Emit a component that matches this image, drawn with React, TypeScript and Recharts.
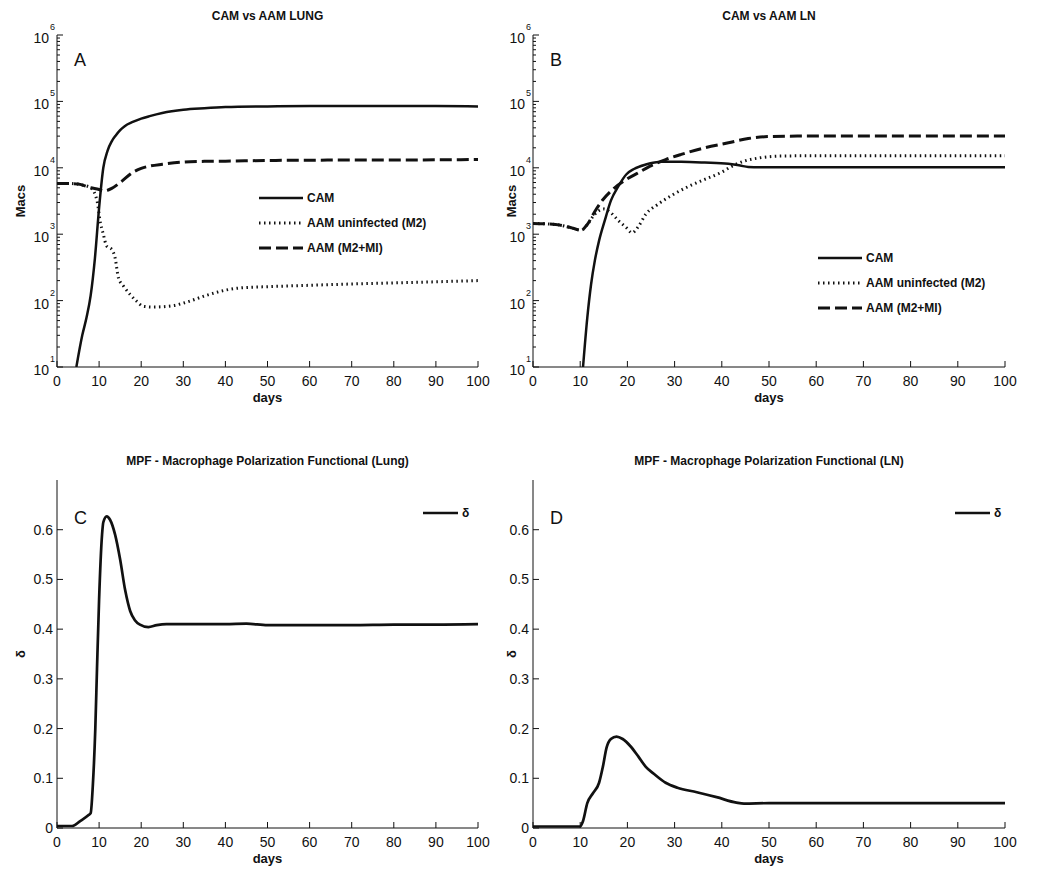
import React from 'react';
import { LineChart, Line, XAxis, YAxis, Legend } from 'recharts';

const TICK_FONT = "'Liberation Sans Narrow', 'Liberation Sans', Arial, sans-serif";
const LABEL_FONT = "'Liberation Sans', Arial, sans-serif";
const INK = '#111';

const DAY_TICKS = [0, 10, 20, 30, 40, 50, 60, 70, 80, 90, 100];
const DELTA_TICKS = [0, 0.1, 0.2, 0.3, 0.4, 0.5, 0.6];
const DECADES = [10, 100, 1000, 10000, 100000, 1000000];
const MINOR_STEPS = [2, 3, 4, 5, 6, 7, 8, 9];
const LOG_TICKS = [...DECADES, ...DECADES.slice(0, -1).flatMap((d) => MINOR_STEPS.map((k) => d * k))];

// A - lung
const LUNG_CAM_DAYS = [4.6, 6, 7, 8, 9, 10, 11, 12, 13, 14, 15, 16, 18, 20, 22, 25, 30, 35, 40, 50, 60, 70, 80, 90, 100];
const LUNG_CAM = [10, 30, 55, 120, 430, 2500, 10000, 18000, 25000, 31000, 37000, 42000, 49000, 55000, 60000, 67000, 75000, 79000, 82000, 84000, 85000, 85000, 85000, 85000, 84000];
const LUNG_M2_DAYS = [0, 3, 6, 8, 9.5, 10.3, 11, 11.8, 13, 13.8, 14.6, 15.8, 17.4, 18.9, 20.5, 23, 27.6, 30.8, 35.5, 40.3, 43.4, 50, 60, 70, 80, 90, 100];
const LUNG_M2 = [5800, 5800, 5500, 5000, 3200, 1500, 1000, 660, 590, 440, 220, 165, 123, 98, 82, 80, 84, 95, 120, 145, 155, 162, 170, 178, 185, 192, 200];
const LUNG_AAM_DAYS = [0, 2, 5, 8, 10, 11, 12, 13, 15, 18, 20, 22, 25, 30, 35, 40, 50, 60, 70, 80, 90, 100];
const LUNG_AAM = [5800, 5800, 5700, 5000, 4700, 4500, 4600, 4900, 6000, 8500, 9800, 10600, 11300, 12200, 12500, 12600, 12900, 13000, 13100, 13100, 13200, 13300];

// B - lymph node
const LN_CAM_DAYS = [10.6, 11.5, 12.3, 13.1, 14, 15.2, 16.5, 18.1, 19.8, 21.4, 23.9, 27.3, 31.4, 36.4, 41.4, 43.9, 45.6, 48, 60, 80, 100];
const LN_CAM = [10, 55, 175, 400, 800, 1600, 3200, 5300, 8000, 9600, 11200, 12300, 12300, 12000, 11500, 10800, 10300, 10200, 10200, 10200, 10200];
const LN_M2_DAYS = [0, 4.8, 8.1, 10.2, 11.5, 13.1, 15, 16.5, 18.1, 19.8, 21, 22.3, 23.9, 26.4, 29.8, 33.1, 36.4, 39.7, 42.2, 44.7, 48, 52.2, 60, 80, 100];
const LN_M2 = [1450, 1400, 1250, 1150, 1400, 2000, 2400, 2100, 1600, 1250, 1050, 1300, 2000, 2800, 4000, 5300, 6700, 8400, 10600, 12600, 14100, 15000, 15200, 15200, 15200];
const LN_AAM_DAYS = [0, 4.8, 8.1, 10.2, 11.5, 13.1, 14.8, 17.3, 19.8, 22.3, 24.8, 28.1, 31.4, 36.4, 41.4, 45.6, 49.7, 56, 65, 80, 100];
const LN_AAM = [1450, 1400, 1250, 1150, 1400, 2200, 3300, 5000, 6700, 8400, 10600, 13300, 15900, 20000, 23800, 27600, 29500, 30000, 30000, 30000, 30000];

// C - MPF lung
const MPF_LUNG_DAYS = [0, 3.6, 5.5, 7.5, 8, 8.5, 9.1, 9.5, 10, 10.7, 11, 11.8, 12.6, 13.8, 15, 16.2, 17.4, 18.5, 19.7, 21.7, 23.7, 26, 30, 40, 45, 50, 60, 70, 80, 90, 100];
const MPF_LUNG = [0.004, 0.004, 0.014, 0.026, 0.03, 0.084, 0.2, 0.32, 0.46, 0.59, 0.615, 0.627, 0.62, 0.59, 0.54, 0.478, 0.436, 0.418, 0.409, 0.404, 0.408, 0.41, 0.41, 0.41, 0.411, 0.408, 0.408, 0.408, 0.409, 0.409, 0.41];

// D - MPF LN
const MPF_LN_DAYS = [0, 5, 10, 10.6, 11.5, 12.7, 14, 14.8, 15.6, 16.5, 17.7, 19, 20.6, 22.3, 23.9, 25.6, 28.1, 30.6, 34.7, 38.9, 43.1, 44.7, 50, 60, 80, 100];
const MPF_LN = [0.003, 0.003, 0.003, 0.014, 0.05, 0.07, 0.091, 0.123, 0.162, 0.179, 0.184, 0.179, 0.165, 0.144, 0.123, 0.109, 0.091, 0.081, 0.072, 0.062, 0.051, 0.049, 0.05, 0.05, 0.05, 0.05];

const zip = (xs: number[], ys: number[]) => xs.map((x, i) => ({ x, y: ys[i] }));

const LINE_STYLE: Record<string, { width: number; dash?: string }> = {
  CAM: { width: 2.5 },
  'AAM uninfected (M2)': { width: 3, dash: '1.5 3.5' },
  'AAM (M2+MI)': { width: 3, dash: '12 5' },
  'δ': { width: 2.7 },
};

const isDecade = (v: number) => Math.abs(Math.log10(v) - Math.round(Math.log10(v))) < 1e-9;

const BottomTick = ({ x, y, payload }: any) => (
  <g>
    <line x1={x} y1={y} x2={x} y2={y - 6} stroke={INK} />
    <text x={x} y={y + 19} textAnchor="middle" fontSize={14} fontFamily={TICK_FONT} fill={INK}>{payload.value}</text>
  </g>
);
const TopTick = ({ x, y }: any) => <line x1={x} y1={y} x2={x} y2={y + 6} stroke={INK} />;

const LeftLogTick = ({ x, y, payload }: any) => {
  const major = isDecade(payload.value);
  return (
    <g>
      <line x1={x} y1={y} x2={x + (major ? 6 : 3)} y2={y} stroke={INK} />
      {major && (
        <>
          <text x={x - 8} y={y + 8} textAnchor="end" fontSize={14} fontFamily={TICK_FONT} fill={INK}>10</text>
          <text x={x - 7} y={y - 5} fontSize={9} fontFamily={TICK_FONT} fill={INK}>{Math.round(Math.log10(payload.value))}</text>
        </>
      )}
    </g>
  );
};
const RightLogTick = ({ x, y, payload }: any) => (
  <line x1={x} y1={y} x2={x - (isDecade(payload.value) ? 6 : 3)} y2={y} stroke={INK} />
);
const LeftLinTick = ({ x, y, payload }: any) => (
  <g>
    <line x1={x} y1={y} x2={x + 6} y2={y} stroke={INK} />
    <text x={x - 4} y={y + 5} textAnchor="end" fontSize={14} fontFamily={TICK_FONT} fill={INK}>{payload.value}</text>
  </g>
);
const RightLinTick = ({ x, y }: any) => <line x1={x} y1={y} x2={x - 6} y2={y} stroke={INK} />;

const LegendBox = ({ payload, order, sample }: any) => {
  const items = [...(payload || [])].sort((a: any, b: any) => order.indexOf(a.value) - order.indexOf(b.value));
  return (
    <div>
      {items.map((entry: any) => {
        const st = LINE_STYLE[entry.value] || { width: 2.5 };
        return (
          <div key={entry.value} style={{ display: 'flex', alignItems: 'center', height: 25 }}>
            <svg width={sample} height={8}>
              <line x1={0} y1={4} x2={sample} y2={4} stroke={INK} strokeWidth={st.width} strokeDasharray={st.dash} />
            </svg>
            <span style={{ marginLeft: 4, fontFamily: LABEL_FONT, fontWeight: 'bold', fontSize: 12, color: INK }}>{entry.value}</span>
          </div>
        );
      })}
    </div>
  );
};

type Series = { name: string; points: { x: number; y: number }[] };

type PanelProps = {
  plotLeft: number;
  plotTop: number;
  plotW: number;
  plotH: number;
  log: boolean;
  series: Series[];
  title: string;
  letter: string;
  letterY: number;
  yLabel: string;
  yLabelX: number;
  legendPos: { left: number; top: number };
  sample: number;
};

const AXIS_W = 57;
const MARGIN_TOP = 35;

const Panel = ({ plotLeft, plotTop, plotW, plotH, log, series, title, letter, letterY, yLabel, yLabelX, legendPos, sample }: PanelProps) => {
  const left = plotLeft - AXIS_W;
  const top = plotTop - MARGIN_TOP;
  const width = AXIS_W + plotW + 15;
  const height = MARGIN_TOP + plotH + 50;
  const yDomain = log ? [10, 1000000] : [0, 0.7];
  const yTicks = log ? LOG_TICKS : DELTA_TICKS;
  return (
    <div style={{ position: 'absolute', left, top, width, height }}>
      <LineChart width={width} height={height} margin={{ top: MARGIN_TOP, right: 15, bottom: 10, left: 0 }}>
        <XAxis xAxisId="b" type="number" dataKey="x" domain={[0, 100]} ticks={DAY_TICKS} interval={0}
          allowDataOverflow tickSize={0} tickMargin={0} tickLine={false} height={40}
          axisLine={{ stroke: INK }} tick={<BottomTick />} />
        <XAxis xAxisId="t" orientation="top" type="number" dataKey="x" domain={[0, 100]} ticks={DAY_TICKS} interval={0}
          allowDataOverflow tickSize={0} tickMargin={0} tickLine={false} height={0}
          axisLine={{ stroke: INK }} tick={<TopTick />} />
        <YAxis yAxisId="l" type="number" scale={log ? 'log' : 'linear'} domain={yDomain} ticks={yTicks} interval={0}
          allowDataOverflow tickSize={0} tickMargin={0} tickLine={false} width={AXIS_W}
          axisLine={{ stroke: INK }} tick={log ? <LeftLogTick /> : <LeftLinTick />} />
        <YAxis yAxisId="r" orientation="right" type="number" scale={log ? 'log' : 'linear'} domain={yDomain} ticks={yTicks} interval={0}
          allowDataOverflow tickSize={0} tickMargin={0} tickLine={false} width={0}
          axisLine={{ stroke: INK }} tick={log ? <RightLogTick /> : <RightLinTick />} />
        {series.map((s) => {
          const st = LINE_STYLE[s.name];
          return (
            <Line key={s.name} xAxisId="b" yAxisId="l" data={s.points} dataKey="y" name={s.name}
              type="monotone" stroke={INK} strokeWidth={st.width} strokeDasharray={st.dash}
              dot={false} activeDot={false} isAnimationActive={false} />
          );
        })}
        <Legend layout="horizontal" verticalAlign="middle" align="center"
          content={<LegendBox order={series.map((s) => s.name)} sample={sample} />}
          wrapperStyle={{ left: legendPos.left, top: legendPos.top, width: 'auto', height: 'auto' }} />
      </LineChart>
      <div style={{ position: 'absolute', left: AXIS_W, width: plotW, top: plotTop - top - 26, textAlign: 'center',
        fontFamily: LABEL_FONT, fontWeight: 'bold', fontSize: 12, lineHeight: '14px', color: INK }}>{title}</div>
      <div style={{ position: 'absolute', left: AXIS_W + 17, top: letterY - top - 9, fontFamily: LABEL_FONT, fontSize: 18,
        lineHeight: '18px', color: INK }}>{letter}</div>
      <div style={{ position: 'absolute', left: AXIS_W, width: plotW, top: MARGIN_TOP + plotH + 24, textAlign: 'center',
        fontFamily: LABEL_FONT, fontWeight: 'bold', fontSize: 13, lineHeight: '14px', color: INK }}>days</div>
      <div style={{ position: 'absolute', left: yLabelX - left, top: MARGIN_TOP + plotH / 2,
        transform: 'translate(-50%, -50%) rotate(-90deg)', fontFamily: LABEL_FONT, fontWeight: 'bold', fontSize: 13,
        lineHeight: '14px', color: INK, whiteSpace: 'nowrap' }}>{yLabel}</div>
    </div>
  );
};

export default function App() {
  return (
    <div style={{ position: 'absolute', left: 0, top: 0, width: 1050, height: 881, background: '#fff', overflow: 'hidden' }}>
      <Panel plotLeft={57} plotTop={35} plotW={421} plotH={332} log title="CAM vs AAM LUNG" letter="A" letterY={60}
        yLabel="Macs" yLabelX={21} legendPos={{ left: 259, top: 185 }} sample={44}
        series={[
          { name: 'CAM', points: zip(LUNG_CAM_DAYS, LUNG_CAM) },
          { name: 'AAM uninfected (M2)', points: zip(LUNG_M2_DAYS, LUNG_M2) },
          { name: 'AAM (M2+MI)', points: zip(LUNG_AAM_DAYS, LUNG_AAM) },
        ]} />
      <Panel plotLeft={533} plotTop={35} plotW={472} plotH={332} log title="CAM vs AAM LN" letter="B" letterY={60}
        yLabel="Macs" yLabelX={512} legendPos={{ left: 342, top: 245 }} sample={44}
        series={[
          { name: 'CAM', points: zip(LN_CAM_DAYS, LN_CAM) },
          { name: 'AAM uninfected (M2)', points: zip(LN_M2_DAYS, LN_M2) },
          { name: 'AAM (M2+MI)', points: zip(LN_AAM_DAYS, LN_AAM) },
        ]} />
      <Panel plotLeft={57} plotTop={480} plotW={421} plotH={348} log={false}
        title="MPF - Macrophage Polarization Functional (Lung)" letter="C" letterY={518}
        yLabel="δ" yLabelX={21} legendPos={{ left: 423, top: 55 }} sample={35}
        series={[{ name: 'δ', points: zip(MPF_LUNG_DAYS, MPF_LUNG) }]} />
      <Panel plotLeft={533} plotTop={480} plotW={472} plotH={348} log={false}
        title="MPF - Macrophage Polarization Functional (LN)" letter="D" letterY={518}
        yLabel="δ" yLabelX={512} legendPos={{ left: 479, top: 55 }} sample={35}
        series={[{ name: 'δ', points: zip(MPF_LN_DAYS, MPF_LN) }]} />
    </div>
  );
}
